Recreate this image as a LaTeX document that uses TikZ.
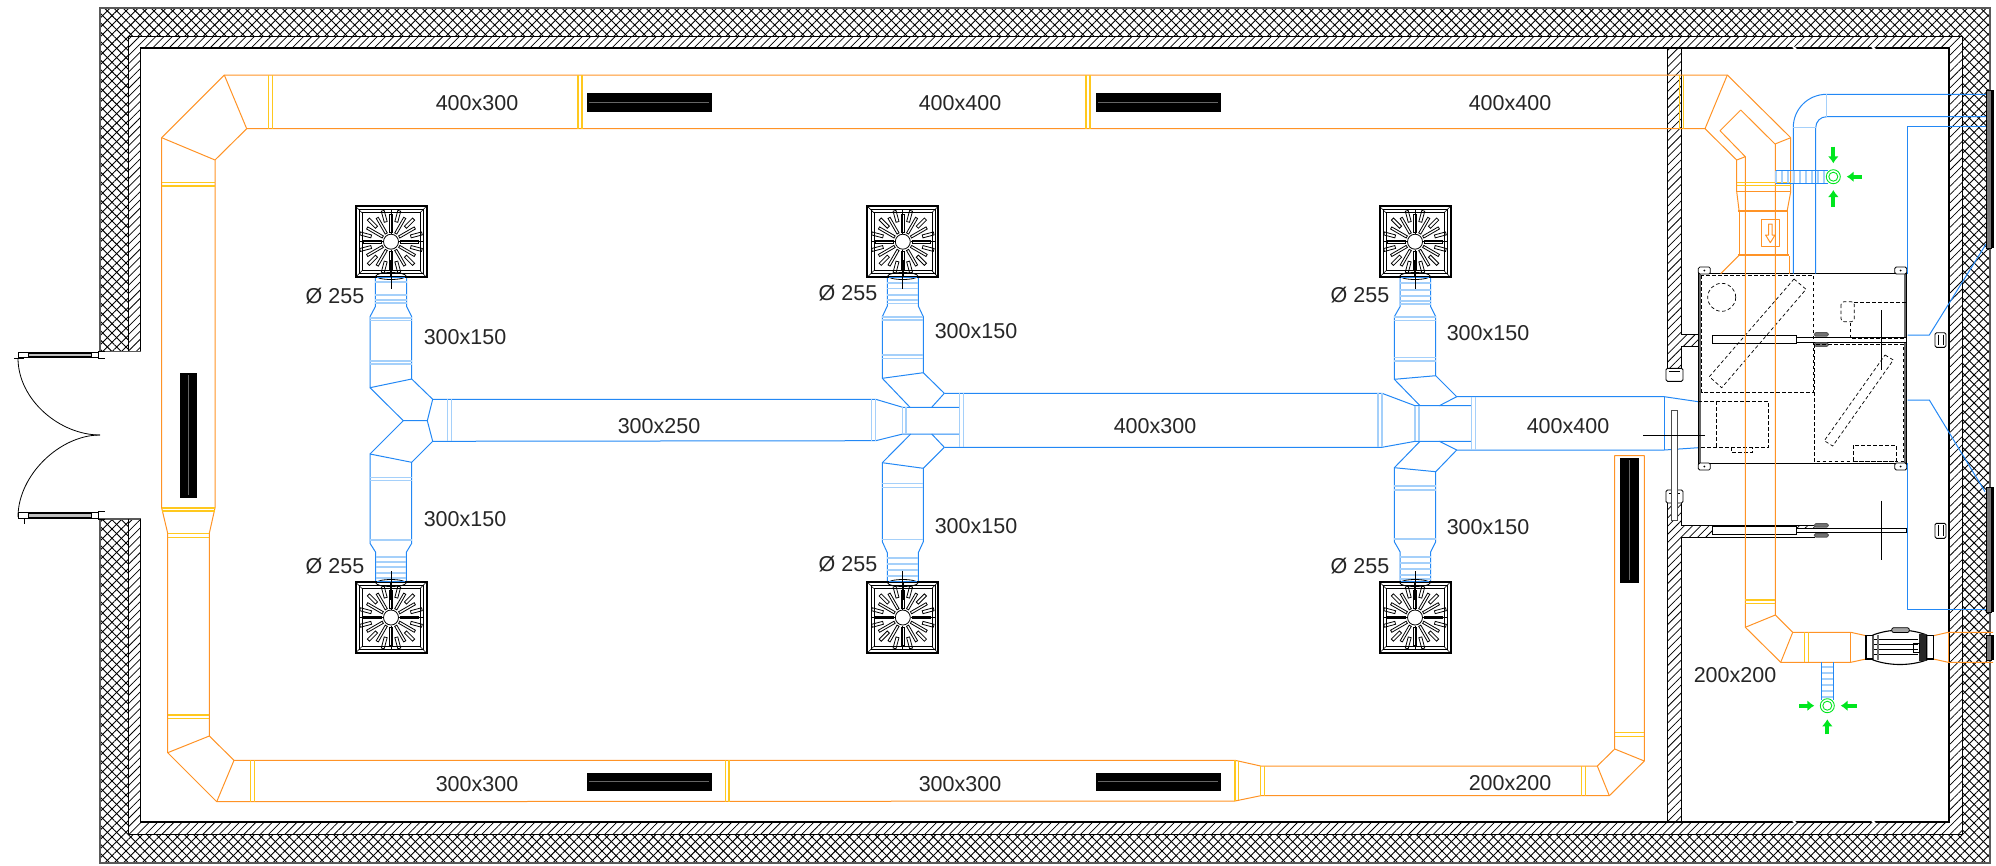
\documentclass[tikz,border=0pt]{standalone}
\usepackage{fontspec}
\setmainfont{Liberation Sans}
\usetikzlibrary{patterns.meta,arrows.meta}

\definecolor{ductblue}{HTML}{2388F5}
\definecolor{flangeblue}{HTML}{A5D0FA}
\definecolor{ductorange}{HTML}{FF9326}
\definecolor{flangeyellow}{HTML}{FFC81E}
\definecolor{airgreen}{HTML}{00E61E}

\tikzset{
  wallhatch/.style={pattern={Lines[angle=45,distance=5.8pt,line width=.75pt]}},
  wallcross/.style={preaction={pattern={Lines[angle=45,distance=6.6pt,line width=.9pt]}},pattern={Lines[angle=-45,distance=6.6pt,line width=.9pt]}},
  bduct/.style={draw=ductblue,line width=1pt,line join=round},
  bflange/.style={draw=flangeblue,line width=1.1pt},
  oduct/.style={draw=ductorange,line width=1pt,line join=round},
  oflange/.style={draw=flangeyellow,line width=1.1pt},
  grille/.style={fill=black,draw=black,line width=.5pt},
  hidden/.style={draw=black,line width=.7pt,dash pattern=on 3.5pt off 2.5pt},
  airflow/.style={draw=airgreen,line width=4pt,-{Latex[length=7pt,width=11pt]}},
  dimlabel/.style={font=\fontsize{21.5}{24}\selectfont,text=black!85,inner sep=0pt},
}

\newcommand{\diffuser}[2]{
  \begin{scope}[shift={(#1,#2)}]
    \draw[line width=2pt,fill=white] (-35.5,-35.5) rectangle (35.5,35.5);
    \draw[line width=.6pt] (-32,-32) rectangle (32,32);
    \draw[line width=.6pt] (-29,-29) rectangle (29,29);
    \foreach \a in {45,135,225,315} \draw[line width=.6pt,rotate=\a] (41,0) -- (50,0);
    \foreach \a in {0,30,...,330} \draw[line width=.8pt,rotate=\a] (9.5,-1.2) rectangle (27.5,1.2);
    \foreach \a in {15,45,...,345} \draw[line width=.8pt,rotate=\a] (20.5,-1.5) rectangle (32,1.5);
    \foreach \a in {0,90,180,270} \draw[line width=.9pt,rotate=\a] (8,0) -- (32,0);
    \draw[line width=.8pt,fill=white] (0,0) circle[radius=7.5];
  \end{scope}
}
\newcommand{\ahubracket}[2]{
  \draw[line width=.8pt,fill=white,rounded corners=1.5pt] (#1-6,#2-3.5) rectangle (#1+6,#2+3.5);
  \fill (#1,#2) circle[radius=1];
}
\newcommand{\sidegrille}[2]{
  \fill[white] (1986.7,#1) rectangle (1993,#2);
  \fill[black!55] (1986.7,#1) rectangle (1991,#2);
  \draw[line width=.8pt] (1986.7,#1) rectangle (1991,#2);
  \draw[line width=1.6pt] (1993,#1) -- (1993,#2);
}

\begin{document}
\begin{tikzpicture}[x=1pt,y=-1pt]
\useasboundingbox (0,0) rectangle (1996,865);

% walls
\fill[wallcross] (100,351) -- (100,8) -- (1990,8) -- (1990,863) -- (100,863) -- (100,519) -- (128.5,519) -- (128.5,834) -- (1962,834) -- (1962,36) -- (128.5,36) -- (128.5,351) -- cycle;
\fill[wallhatch] (128.5,351) -- (128.5,36) -- (1962,36) -- (1962,834) -- (128.5,834) -- (128.5,519) -- (140.5,519) -- (140.5,822) -- (1949,822) -- (1949,48) -- (140.5,48) -- (140.5,351) -- cycle;
\draw[black!65,line width=1.5pt] (100,351) -- (100,8) -- (1990,8) -- (1990,863) -- (100,863) -- (100,519) -- (140.5,519);
\draw[black!65,line width=1pt] (100,351) -- (140.5,351);
\draw[line width=.8pt] (128.5,351) -- (128.5,36) -- (1962,36) -- (1962,834) -- (128.5,834) -- (128.5,519);
\draw[line width=1.2pt] (140.5,351) -- (140.5,48) -- (1949,48) -- (1949,822) -- (140.5,822) -- (140.5,519);
\foreach \x in {1793,1872} {
  \draw[white,line width=2pt] (\x,47) -- (\x+3,49);
  \draw[white,line width=2pt] (\x,821) -- (\x+3,823);
}
\fill[wallhatch] (1667,48) rectangle (1681,373);
\fill[wallhatch] (1667,490) rectangle (1681,822);
\fill[wallhatch] (1681,334) rectangle (1713,346);
\fill[wallhatch] (1713,334) rectangle (1815,336);
\fill[wallhatch] (1681,525) rectangle (1713,537);
\fill[wallhatch] (1713,525) rectangle (1815,527);
\draw[line width=.8pt] (1667,48) -- (1667,373);
\draw[line width=.8pt] (1667,490) -- (1667,822);
\draw[line width=1pt] (1681,48) -- (1681,334) -- (1815,334);
\draw[line width=.8pt] (1681,373) -- (1681,346) -- (1815,346);
\draw[line width=.8pt] (1681,490) -- (1681,525) -- (1815,525);
\draw[line width=1pt] (1681,822) -- (1681,537) -- (1815,537);

% door
\draw[line width=.8pt] (18,358) .. controls (18,400) and (60,435) .. (100,435);
\draw[line width=.8pt] (18,517) .. controls (18,475) and (60,435) .. (100,435);
\foreach \ya/\yb in {352.3/357.7,512.7/518.3} {
  \draw[line width=.9pt,fill=white] (18,\ya) rectangle (98,\yb);
  \draw[line width=.7pt,fill=black!25] (28,\ya+1) rectangle (91,\yb-1);
  \draw[line width=1pt] (98,\ya-1) -- (105,\ya-1);
  \draw[line width=1pt] (98,\yb+1) -- (105,\yb+1);
}
\draw[line width=.8pt] (14,358) -- (24,358);
\draw[line width=.8pt] (24,518) -- (24,524);

% grilles
\foreach \x in {587,1096} {
  \draw[grille] (\x,93) rectangle (\x+124,111);
  \draw[black!60,line width=.3pt] (\x+2,102) -- (\x+122,102);
  \draw[grille] (\x,773) rectangle (\x+124,790);
  \draw[black!60,line width=.3pt] (\x+2,781) -- (\x+122,781);
}
\draw[grille] (180.3,373.3) rectangle (196.7,497.3);
\draw[black!60,line width=.3pt] (188,375) -- (188,495);
\draw[grille] (1620.5,458) rectangle (1638,582);
\draw[black!60,line width=.3pt] (1629,460) -- (1629,580);

% supply ducts
\draw[bduct] (375.3,277) -- (375.3,306.7) -- (370,316.7) -- (370,387.7) -- (411.7,379) -- (411.7,316.7) -- (406.7,306.7) -- (406.7,277);
\draw[bduct] (370,387.7) -- (403.3,420.7) -- (427.3,420.7) -- (432.7,399.3) -- (411.7,379);
\draw[bduct] (375.7,583) -- (375.7,552.3) -- (370,543.3) -- (370,454) -- (411.7,462.3) -- (411.7,543.3) -- (406.3,552.3) -- (406.3,583);
\draw[bduct] (370,454) -- (403.3,420.7);
\draw[bduct] (427.3,420.7) -- (432.7,441.3) -- (411.7,462.3);
\draw[bduct] (432.7,399.3) -- (875.7,399.3) -- (902.7,407.3) -- (959.3,407.3);
\draw[bduct] (432.7,441.3) -- (875.7,440.7) -- (902.7,434) -- (959.3,434);
\draw[bduct] (887.3,277) -- (887.3,306) -- (882.3,316.7) -- (882.3,378.3) -- (923.3,372.7) -- (923.3,316.7) -- (918.3,306) -- (918.3,277);
\draw[bduct] (882.3,378.3) -- (910,407.3);
\draw[bduct] (923.3,372.7) -- (944.3,393.3) -- (931.7,407.3);
\draw[bduct] (887.3,583) -- (887.3,552.7) -- (882.3,541.7) -- (882.3,462.7) -- (923.3,468.3) -- (923.3,541.7) -- (918.3,552.7) -- (918.3,583);
\draw[bduct] (882.3,462.7) -- (910.7,434);
\draw[bduct] (931.7,434) -- (944.3,447.3) -- (923.3,468.3);
\draw[bduct] (944.3,393.3) -- (1382,393.3) -- (1415,405.7) -- (1471.3,405.7);
\draw[bduct] (944.3,447.3) -- (1382,447.3) -- (1415,441.3) -- (1471.3,441.3);
\draw[bduct] (1400,277) -- (1400,306.7) -- (1394.3,316.7) -- (1394.3,379.3) -- (1435.7,375.7) -- (1435.7,316.7) -- (1430.7,306.7) -- (1430.7,277);
\draw[bduct] (1394.3,379.3) -- (1420,405.7);
\draw[bduct] (1435.7,375.7) -- (1456.7,396.7) -- (1439.3,405.7);
\draw[bduct] (1400,583) -- (1400,551.7) -- (1394.3,541.7) -- (1394.3,467.7) -- (1435.7,471.7) -- (1435.7,541.7) -- (1430.7,551.7) -- (1430.7,583);
\draw[bduct] (1394.3,467.7) -- (1420,441.3);
\draw[bduct] (1439.3,441.3) -- (1456.7,450) -- (1435.7,471.7);
\draw[bduct] (1456.7,396.7) -- (1664.3,396.7) -- (1698.3,401.7);
\draw[bduct] (1456.7,450) -- (1664.3,450) -- (1698.3,447.7);
\draw[bduct] (1664.3,396.7) -- (1664.3,450);
\foreach \x/\ya/\yb in {447.7/399.3/441.3,451.7/399.3/441.3,871.7/399.3/440.7,875.7/399.3/440.7,902.7/407.3/434,906/407.3/434,959.3/393.3/447.3,963.3/393.3/447.3,1378/393.3/447.3,1382/393.3/447.3,1415/405.7/441.3,1419/405.7/441.3,1471.3/396.7/450,1475.3/396.7/450}
  \draw[bflange] (\x,\ya) -- (\x,\yb);
\foreach \xa/\xb/\y in {375.3/406.7/282,375.3/406.7/295,375.3/406.7/300,375.3/406.7/303,370/411.7/318,370/411.7/320.7,370/411.7/361,370/411.7/364,370/411.7/477.3,370/411.7/480.7,370/411.7/540,375.7/406.3/557,375.7/406.3/562,375.7/406.3/567,375.7/406.3/573,375.7/406.3/578,887.3/918.3/283,887.3/918.3/288.3,887.3/918.3/295,887.3/918.3/300,887.3/918.3/303.3,882.3/923.3/317,882.3/923.3/320,882.3/923.3/355,882.3/923.3/358.3,882.3/923.3/483.3,882.3/923.3/487.3,882.3/923.3/539.3,887.3/918.3/558,887.3/918.3/564,887.3/918.3/570,887.3/918.3/576,1400/1430.7/283,1400/1430.7/290,1400/1430.7/296,1400/1430.7/301,1400/1430.7/304,1394.3/1435.7/317,1394.3/1435.7/320.7,1394.3/1435.7/357.3,1394.3/1435.7/361,1394.3/1435.7/486,1394.3/1435.7/490,1394.3/1435.7/539,1400/1430.7/557,1400/1430.7/563,1400/1430.7/569,1400/1430.7/575,1400/1430.7/579}
  \draw[bflange] (\xa,\y) -- (\xb,\y);

% diffusers
\foreach \x in {391,902.8,1415} {
  \diffuser{\x}{241.7}
  \diffuser{\x}{617.5}
  \draw[line width=.8pt] (\x,276) ellipse[x radius=15,y radius=3.5];
  \draw[line width=.8pt] (\x,583) ellipse[x radius=15,y radius=3.5];
  \draw[bduct] (\x-14,277.5) -- (\x+14,277.5);
  \draw[bduct] (\x-14,581.5) -- (\x+14,581.5);
  \draw[line width=.8pt] (\x,260) -- (\x,289);
  \draw[line width=2pt] (\x,260) -- (\x,276);
  \draw[line width=.8pt] (\x,571) -- (\x,600);
  \draw[line width=2pt] (\x,583) -- (\x,600);
}

% air handling unit
\draw[line width=1pt,fill=white] (1698.3,273.7) rectangle (1906.7,463.3);
\draw[black!60,line width=1.4pt] (1700,273.7) -- (1700,463.3);
\draw[black!60,line width=1.4pt] (1905,273.7) -- (1905,463.3);
\foreach \x in {1704.3,1900.7} {
  \ahubracket{\x}{270.5}
  \ahubracket{\x}{466.5}
}
% door leaves beside the unit
\foreach \ya/\yb in {335.7/343.3,526.7/534} {
  \draw[line width=.8pt,fill=white] (1712.7,\ya) rectangle (1796.7,\yb);
  \draw[line width=.8pt,fill=white] (1796.7,\ya+1.5) rectangle (1906.7,\yb-1.3);
  \draw[black!65,line width=1pt,fill=black!55,rounded corners=1.5pt] (1814.3,\ya-3) rectangle (1828.3,\ya+.5);
  \draw[black!65,line width=1pt,fill=black!55,rounded corners=1.5pt] (1814.3,\yb-.5) rectangle (1828.3,\yb+3);
}
\foreach \ya/\yb in {332.7/347.3,523.3/538.3} {
  \draw[line width=.9pt,fill=white,rounded corners=1.5pt] (1935,\ya) rectangle (1946,\yb);
  \draw[line width=.7pt] (1938,\ya+2) -- (1938,\yb-2);
  \draw[line width=.7pt] (1943,\ya+2) -- (1943,\yb-2);
}
\foreach \ya in {368.3,490} {
  \draw[line width=.9pt,fill=white,rounded corners=1.5pt] (1666,\ya) rectangle (1683,\ya+13);
  \draw[line width=.7pt] (1669,\ya+3) -- (1680,\ya+3);
}
\draw[hidden] (1701.7,275) rectangle (1813.3,392.3);
\draw[hidden] (1721.7,297.3) circle[radius=14];
\draw[hidden] (1794,279) -- (1806,289.3) -- (1721.7,387.7) -- (1709.3,376.7) -- cycle;
\draw[hidden] (1698.3,401.3) -- (1768.3,401.3) -- (1768.3,447.7) -- (1698.3,447.7);
\draw[hidden] (1716.7,401.3) -- (1716.7,447.7);
\draw[hidden] (1731,447.7) rectangle (1752.3,452.3);
\draw[hidden] (1814.3,344) rectangle (1903.3,461.7);
\draw[hidden] (1885,355) -- (1893.3,360) -- (1832.7,446) -- (1824.3,440.7) -- cycle;
\draw[hidden] (1853.3,445.3) rectangle (1896.7,461.7);
\draw[hidden] (1854.3,302.3) -- (1906,302.3) -- (1906,338.3) -- (1850,338.3) -- (1850,321.7);
\draw[hidden,rounded corners=3pt] (1841,301.7) rectangle (1854.3,321.7);
\draw[line width=.8pt] (1881.7,310) -- (1881.7,370);
\draw[line width=.8pt] (1881.7,500.7) -- (1881.7,560);
\draw[black!70,line width=.8pt,fill=white] (1671,410) rectangle (1677.7,520);
\draw[line width=.8pt] (1643.3,435) -- (1705,435);

% exhaust and intake pipes
\draw[bduct] (1793.3,273.7) -- (1793.3,127.3) .. controls (1793.3,109) and (1808,94.3) .. (1826.7,94.3) -- (1986.7,94.3);
\draw[bduct] (1815.7,273.7) -- (1815.7,127.7) .. controls (1815.7,121.5) and (1820.5,116.7) .. (1826.7,116.7) -- (1986.7,116.7);
\draw[bflange] (1793.3,127.3) -- (1815.7,127.3);
\draw[bflange] (1826.7,94.3) -- (1826.7,116.7);
\draw[bduct] (1907.7,273.7) -- (1907.7,126) -- (1986.7,126);
\draw[bduct] (1907.7,463.3) -- (1907.7,609.3) -- (1986.7,609.3);
\draw[bduct] (1907.7,335) -- (1929.3,335) -- (1986.7,243);
\draw[bduct] (1907.7,400) -- (1929.3,400) -- (1985,491.7);
\sidegrille{90}{248}
\sidegrille{487}{612}
\sidegrille{635}{660}

% return ducts
\draw[oduct] (1705,128.7) -- (246.7,128.7) -- (215,160) -- (215,508) -- (209.3,533.3) -- (209.3,736) -- (234,760.3) -- (1235,760.3) -- (1260.7,766) -- (1597.3,766) -- (1614.7,749) -- (1614.7,455.7) -- (1644.3,455.7) -- (1644.3,761) -- (1609.3,795.7) -- (1260.7,795.7) -- (1235,801) -- (216.7,801.7) -- (167.7,752.7) -- (167.7,533.3) -- (161.7,508) -- (161.7,137.7) -- (224.3,75) -- (1727.3,75) -- (1790.7,137.7);
\draw[oduct] (224.3,75) -- (246.7,128.7);
\draw[oduct] (161.7,137.7) -- (215,160);
\draw[oduct] (234,760.3) -- (216.7,801.7);
\draw[oduct] (167.7,752.7) -- (209.3,736);
\draw[oduct] (1597.3,766) -- (1609.3,795.7);
\draw[oduct] (1614.7,749) -- (1644.3,761);
\draw[oduct] (1727.3,75) -- (1705,128.7) -- (1736.7,160);
\draw[oduct] (1740.7,110) -- (1720,130.7) -- (1745.3,156.7) -- (1736.7,160);
\draw[oduct] (1740.7,110) -- (1775,144) -- (1790.7,137.7);
\draw[oduct] (1736.7,160) -- (1736.7,191.7) -- (1739,210);
\draw[oduct] (1790.7,137.7) -- (1790.7,191.7) -- (1787.3,210);
\draw[oduct] (1736.7,191.7) -- (1790.7,191.7);
\draw[oduct] (1739.3,210) rectangle (1787.3,255);
\draw[draw=ductorange,line width=2.5pt] (1738,211) -- (1788,211);
\draw[draw=ductorange,line width=2.5pt] (1738,255) -- (1789,255);
\draw[oduct] (1739.3,255) -- (1720.7,273.7);
\draw[oduct] (1789.3,256) -- (1789.3,273.7);
\draw[oduct] (1761.7,219.3) rectangle (1779.3,246.7);
\draw[oduct] (1768.5,224) -- (1772,224) -- (1772,235) -- (1775,235) -- (1770.3,242.7) -- (1765.6,235) -- (1768.5,235) -- cycle;
\draw[oduct] (1745.3,156.7) -- (1745.3,627.3) -- (1780.7,662.3) -- (1850.7,662.3) -- (1866,659);
\draw[oduct] (1775.3,144) -- (1775.3,615) -- (1792.7,632.3) -- (1850.7,632.3) -- (1866,635.7);
\draw[oduct] (1745.3,627.3) -- (1775.3,615);
\draw[oduct] (1792.7,632.3) -- (1780.7,662.3);
\draw[oduct] (1850.7,632.3) -- (1850.7,662.3);
\draw[oduct] (1933.3,635.7) -- (1948.3,632.3) -- (1993,632.3);
\draw[oduct] (1933.3,659) -- (1948.3,662.3) -- (1993,662.3);
\draw[oduct] (1948.3,632.3) -- (1948.3,662.3);
\foreach \x/\ya/\yb in {268.3/75/128.7,272.7/75/128.7,578/75/128.7,582/75/128.7,1086/75/128.7,1090/75/128.7,1679.3/75/128.7,1683.3/75/128.7,250.7/760.3/801.5,254.7/760.3/801.5,725.7/760.3/801.5,729/760.3/801.5,1235/760.3/801,1238.7/761/800,1260.7/766/795.7,1264.7/766/795.7,1581.3/766/795.7,1585.3/766/795.7,1804.7/632.3/662.3,1808.3/632.3/662.3}
  \draw[oflange] (\x,\ya) -- (\x,\yb);
\foreach \xa/\xb/\y in {161.7/215/182.7,161.7/215/186,161.7/215/508,161.7/215/511,167.7/209.3/533.3,167.7/209.3/537.3,167.7/209.3/715,167.7/209.3/718.3,1614.7/1644.3/732.3,1614.7/1644.3/736.3,1736.7/1790.7/182.7,1736.7/1790.7/185.3,1745.3/1775.3/600,1745.3/1775.3/603.3}
  \draw[oflange] (\xa,\y) -- (\xb,\y);

% fan
\draw[line width=1.3pt,fill=white] (1866,635.7) rectangle (1933.3,659);
\draw[line width=1.1pt,fill=white] (1873,635) .. controls (1890,628.5) and (1910,628.5) .. (1926.7,635) -- (1926.7,660) .. controls (1910,666) and (1890,666) .. (1873,660) -- cycle;
\draw[line width=.8pt,fill=black!35,rounded corners=2pt] (1891.7,627.7) rectangle (1909.3,632.5);
\foreach \y in {639.5,644,649.5,654}
  \draw[line width=.8pt] (1874,\y) -- (1918,\y);
\draw[black!55,line width=2.5pt] (1878,635) -- (1878,660);
\draw[black!85,line width=7pt] (1922,634) -- (1922,661);
\draw[line width=.7pt] (1913,643) rectangle (1919,652);

% flexible connections to the outlets
\draw[bduct] (1775.7,170.7) -- (1828.3,170.7);
\draw[bduct] (1775.7,183.3) -- (1828.3,183.3);
\foreach \x in {1776,1782,...,1824} \draw[bflange] (\x,171) -- (\x,183);
\draw[bduct] (1821.7,662.3) -- (1821.7,700);
\draw[bduct] (1833.7,662.3) -- (1833.7,700);
\foreach \y in {667,673,...,697} \draw[bflange] (1822,\y) -- (1833.4,\y);
\foreach \cx/\cy in {1833.3/176.7,1827.3/705.7} {
  \draw[draw=airgreen,line width=.9pt,fill=white] (\cx,\cy) circle[radius=7];
  \draw[draw=airgreen,line width=.9pt] (\cx,\cy) circle[radius=4.5];
}
\draw[airflow] (1833.3,146.7) -- (1833.3,163.3);
\draw[airflow] (1833.3,206.7) -- (1833.3,190);
\draw[airflow] (1861.7,176.7) -- (1846.7,176.7);
\draw[airflow] (1799.3,705.7) -- (1814.3,705.7);
\draw[airflow] (1856.7,705.7) -- (1840.7,705.7);
\draw[airflow] (1827.3,734.3) -- (1827.3,719.3);

% sizes
\foreach \n/\x/\y/\t in {a/477/103/400x300,b/960/103/400x400,c/1510/103/400x400,d/477/784/300x300,e/960/784/300x300,f/1510/783/200x200,g/659/426/300x250,h/1155/426/400x300,i/1568/426/400x400,j/465/337/300x150,k/465/519/300x150,l/976/331/300x150,m/976/526/300x150,n/1488/333/300x150,o/1488/527/300x150,p/1735/675/200x200}
  \node[dimlabel] (size\n) at (\x,\y) {\t};
\foreach \n/\x/\y in {a/335/296,b/848/293,c/1360/295,d/335/566,e/848/564,f/1360/566}
  \node[dimlabel] (dia\n) at (\x,\y) {Ø 255};
\end{tikzpicture}
\end{document}
